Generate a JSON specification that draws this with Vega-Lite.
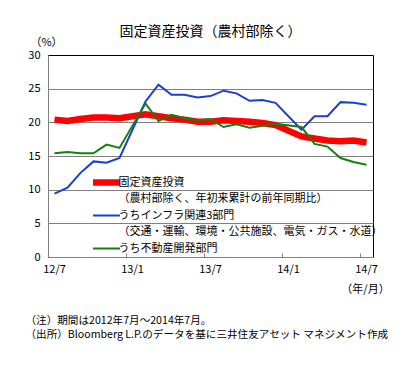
{
  "$schema": "https://vega.github.io/schema/vega-lite/v6.json",
  "width": 325,
  "height": 202,
  "autosize": {"type": "none"},
  "padding": {"left": 48, "top": 55, "right": 46, "bottom": 112},
  "background": "white",
  "title": {"text": "固定資産投資（農村部除く）", "fontSize": 14, "fontWeight": "normal", "anchor": "middle", "frame": "group", "offset": -3, "color": "#000"},
  "data": {"values": [
    {"month": "12/7", "series": "固定資産投資", "value": 20.4},
    {"month": "12/8", "series": "固定資産投資", "value": 20.2},
    {"month": "12/9", "series": "固定資産投資", "value": 20.5},
    {"month": "12/10", "series": "固定資産投資", "value": 20.7},
    {"month": "12/11", "series": "固定資産投資", "value": 20.7},
    {"month": "12/12", "series": "固定資産投資", "value": 20.6},
    {"month": "13/2", "series": "固定資産投資", "value": 21.2},
    {"month": "13/3", "series": "固定資産投資", "value": 20.9},
    {"month": "13/4", "series": "固定資産投資", "value": 20.6},
    {"month": "13/5", "series": "固定資産投資", "value": 20.4},
    {"month": "13/6", "series": "固定資産投資", "value": 20.1},
    {"month": "13/7", "series": "固定資産投資", "value": 20.1},
    {"month": "13/8", "series": "固定資産投資", "value": 20.3},
    {"month": "13/9", "series": "固定資産投資", "value": 20.2},
    {"month": "13/10", "series": "固定資産投資", "value": 20.1},
    {"month": "13/11", "series": "固定資産投資", "value": 19.9},
    {"month": "13/12", "series": "固定資産投資", "value": 19.6},
    {"month": "14/2", "series": "固定資産投資", "value": 17.9},
    {"month": "14/3", "series": "固定資産投資", "value": 17.6},
    {"month": "14/4", "series": "固定資産投資", "value": 17.3},
    {"month": "14/5", "series": "固定資産投資", "value": 17.2},
    {"month": "14/6", "series": "固定資産投資", "value": 17.3},
    {"month": "14/7", "series": "固定資産投資", "value": 17.0},
    {"month": "12/7", "series": "うちインフラ関連3部門", "value": 9.4},
    {"month": "12/8", "series": "うちインフラ関連3部門", "value": 10.3},
    {"month": "12/9", "series": "うちインフラ関連3部門", "value": 12.5},
    {"month": "12/10", "series": "うちインフラ関連3部門", "value": 14.2},
    {"month": "12/11", "series": "うちインフラ関連3部門", "value": 14.0},
    {"month": "12/12", "series": "うちインフラ関連3部門", "value": 14.7},
    {"month": "13/2", "series": "うちインフラ関連3部門", "value": 23.1},
    {"month": "13/3", "series": "うちインフラ関連3部門", "value": 25.6},
    {"month": "13/4", "series": "うちインフラ関連3部門", "value": 24.1},
    {"month": "13/5", "series": "うちインフラ関連3部門", "value": 24.1},
    {"month": "13/6", "series": "うちインフラ関連3部門", "value": 23.7},
    {"month": "13/7", "series": "うちインフラ関連3部門", "value": 23.9},
    {"month": "13/8", "series": "うちインフラ関連3部門", "value": 24.7},
    {"month": "13/9", "series": "うちインフラ関連3部門", "value": 24.3},
    {"month": "13/10", "series": "うちインフラ関連3部門", "value": 23.2},
    {"month": "13/11", "series": "うちインフラ関連3部門", "value": 23.3},
    {"month": "13/12", "series": "うちインフラ関連3部門", "value": 22.9},
    {"month": "14/2", "series": "うちインフラ関連3部門", "value": 18.9},
    {"month": "14/3", "series": "うちインフラ関連3部門", "value": 20.9},
    {"month": "14/4", "series": "うちインフラ関連3部門", "value": 20.9},
    {"month": "14/5", "series": "うちインフラ関連3部門", "value": 23.0},
    {"month": "14/6", "series": "うちインフラ関連3部門", "value": 22.9},
    {"month": "14/7", "series": "うちインフラ関連3部門", "value": 22.6},
    {"month": "12/7", "series": "うち不動産開発部門", "value": 15.4},
    {"month": "12/8", "series": "うち不動産開発部門", "value": 15.6},
    {"month": "12/9", "series": "うち不動産開発部門", "value": 15.4},
    {"month": "12/10", "series": "うち不動産開発部門", "value": 15.4},
    {"month": "12/11", "series": "うち不動産開発部門", "value": 16.7},
    {"month": "12/12", "series": "うち不動産開発部門", "value": 16.2},
    {"month": "13/2", "series": "うち不動産開発部門", "value": 22.8},
    {"month": "13/3", "series": "うち不動産開発部門", "value": 20.2},
    {"month": "13/4", "series": "うち不動産開発部門", "value": 21.1},
    {"month": "13/5", "series": "うち不動産開発部門", "value": 20.6},
    {"month": "13/6", "series": "うち不動産開発部門", "value": 20.3},
    {"month": "13/7", "series": "うち不動産開発部門", "value": 20.5},
    {"month": "13/8", "series": "うち不動産開発部門", "value": 19.3},
    {"month": "13/9", "series": "うち不動産開発部門", "value": 19.7},
    {"month": "13/10", "series": "うち不動産開発部門", "value": 19.2},
    {"month": "13/11", "series": "うち不動産開発部門", "value": 19.5},
    {"month": "13/12", "series": "うち不動産開発部門", "value": 19.8},
    {"month": "14/2", "series": "うち不動産開発部門", "value": 19.3},
    {"month": "14/3", "series": "うち不動産開発部門", "value": 16.8},
    {"month": "14/4", "series": "うち不動産開発部門", "value": 16.4},
    {"month": "14/5", "series": "うち不動産開発部門", "value": 14.7},
    {"month": "14/6", "series": "うち不動産開発部門", "value": 14.1},
    {"month": "14/7", "series": "うち不動産開発部門", "value": 13.7}
  ]},
  "encoding": {
    "y": {
      "field": "value", "type": "quantitative",
      "scale": {"domain": [0, 30], "nice": false, "zero": true},
      "axis": {
        "values": [0, 5, 10, 15, 20, 25, 30],
        "grid": true, "gridColor": "#808080",
        "gridOpacity": {"condition": {"test": "datum.value == 0 || datum.value == 30", "value": 0}, "value": 1},
        "ticks": false, "labelPadding": 8, "labelFontSize": 11, "labelColor": "#000",
        "domainColor": "#808080",
        "title": "（%）", "titleAngle": 0, "titleX": -2, "titleY": -13,
        "titleAlign": "center", "titleBaseline": "middle", "titleFontSize": 11,
        "titleFontWeight": "normal", "titleColor": "#000"
      }
    }
  },
  "layer": [
    {
      "mark": {"type": "line", "opacity": 0},
      "encoding": {
        "x": {
          "field": "month", "type": "ordinal", "bandPosition": 0.5,
          "scale": {"type": "band", "paddingInner": 0, "paddingOuter": 0,
            "domain": ["12/7","12/8","12/9","12/10","12/11","12/12","13/1","13/2","13/3","13/4","13/5","13/6","13/7","13/8","13/9","13/10","13/11","13/12","14/1","14/2","14/3","14/4","14/5","14/6","14/7"]},
          "axis": {
            "orient": "bottom",
            "values": ["13/1", "13/7", "14/1", "14/7"],
            "bandPosition": 0, "labels": false, "domain": false, "grid": false,
            "ticks": true, "tickSize": -4, "tickColor": "#808080",
            "title": ["（注）期間は2012年7月～2014年7月。", "（出所）Bloomberg L.P.のデータを基に三井住友アセット マネジメント作成"],
            "titleX": -23, "titleY": 58, "titleAlign": "left", "titleBaseline": "top",
            "titleLineHeight": 14, "titleFontSize": 10.6, "titleFontWeight": "normal", "titleColor": "#000"
          }
        },
        "detail": {"field": "series", "type": "nominal"}
      }
    },
    {
      "mark": {"type": "line"},
      "encoding": {
        "x": {
          "field": "month", "type": "ordinal", "bandPosition": 0.5,
          "axis": {
            "orient": "bottom",
            "values": ["12/7", "13/1", "13/7", "14/1", "14/7"],
            "ticks": false, "domain": true, "domainColor": "#808080", "grid": false,
            "labelPadding": 6, "labelFontSize": 11, "labelAngle": 0, "labelColor": "#000",
            "title": "（年/月）", "titleX": 317, "titleY": 32, "titleAlign": "center",
            "titleBaseline": "middle", "titleFontSize": 11, "titleFontWeight": "normal", "titleColor": "#000"
          }
        },
        "color": {
          "field": "series", "type": "nominal",
          "scale": {
            "domain": ["固定資産投資", "（農村部除く、年初来累計の前年同期比）", "うちインフラ関連3部門", "（交通・運輸、環境・公共施設、電気・ガス・水道）", "うち不動産開発部門"],
            "range": ["#ff0000", "rgba(0,0,0,0)", "#1a3fd6", "rgba(0,0,0,0)", "#128012"]
          },
          "legend": {
            "orient": "none", "legendX": 53, "legendY": 122, "title": null,
            "symbolType": "M-6.75,0H6.75", "symbolSize": 16, "labelFontSize": 11,
            "labelLimit": 400, "rowPadding": 4.5, "labelOffset": 6.5, "padding": 0, "labelColor": "#000",
            "labelExpr": "datum.label == '固定資産投資' ? '\u00a0\u00a0\u00a0' + datum.label : (indexof(datum.label, 'うち') == 0 ? '\u00a0\u00a0\u00a0\u00a0\u00a0\u00a0' + datum.label : (indexof(datum.label, '交通') >= 0 ? '\u00a0\u00a0\u00a0' + datum.label : datum.label))",
            "encode": {"symbols": {"update": {"strokeJoin": {"value": "round"}}}}
          }
        },
        "strokeWidth": {
          "field": "series", "type": "nominal",
          "scale": {
            "type": "ordinal",
            "domain": ["固定資産投資", "（農村部除く、年初来累計の前年同期比）", "うちインフラ関連3部門", "（交通・運輸、環境・公共施設、電気・ガス・水道）", "うち不動産開発部門"],
            "range": [6.5, 0, 2, 0, 2]
          },
          "legend": {
            "orient": "none", "legendX": 53, "legendY": 122, "title": null,
            "symbolType": "M-6.75,0H6.75", "symbolSize": 16, "labelFontSize": 11,
            "labelLimit": 400, "rowPadding": 4.5, "labelOffset": 6.5, "padding": 0, "labelColor": "#000",
            "labelExpr": "datum.label == '固定資産投資' ? '\u00a0\u00a0\u00a0' + datum.label : (indexof(datum.label, 'うち') == 0 ? '\u00a0\u00a0\u00a0\u00a0\u00a0\u00a0' + datum.label : (indexof(datum.label, '交通') >= 0 ? '\u00a0\u00a0\u00a0' + datum.label : datum.label))",
            "encode": {"symbols": {"update": {"strokeJoin": {"value": "round"}}}}
          }
        }
      }
    }
  ],
  "resolve": {"axis": {"x": "independent"}},
  "config": {
    "font": "Noto Sans CJK JP",
    "view": {"stroke": "#000", "strokeWidth": 1},
    "axis": {"labelFont": "Noto Sans CJK JP", "titleFont": "Noto Sans CJK JP"},
    "legend": {"labelFont": "Noto Sans CJK JP"}
  }
}
